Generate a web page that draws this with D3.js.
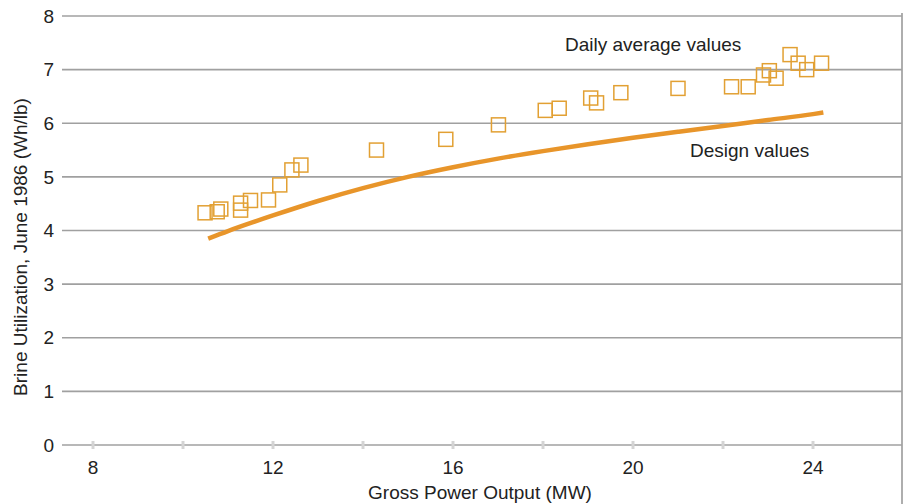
<!DOCTYPE html>
<html>
<head>
<meta charset="utf-8">
<script src="https://cdn.jsdelivr.net/npm/d3@7"></script>
<style>
  body { margin: 0; background: #fff; }
  text { font-family: "Liberation Sans", Arial, sans-serif; fill: #222; }
</style>
</head>
<body>
<script>
let width = 908
let height = 504

// daily average values (MW, Wh/lb)
let dailyX = [10.49, 10.76, 10.84, 11.28, 11.28, 11.5, 11.9, 12.15, 12.42, 12.62,
  14.3, 15.84, 17.01, 18.05, 18.36, 19.06, 19.19, 19.73, 21.0,
  22.19, 22.56, 22.9, 23.03, 23.18, 23.49, 23.67, 23.86, 24.19]
let dailyY = [4.33, 4.35, 4.4, 4.51, 4.38, 4.56, 4.57, 4.85, 5.13, 5.22,
  5.5, 5.7, 5.97, 6.24, 6.28, 6.47, 6.38, 6.57, 6.65,
  6.68, 6.68, 6.9, 6.98, 6.84, 7.28, 7.12, 7.0, 7.12]

// design curve
let designX = [10.56, 11, 12, 13, 14, 15, 16, 17, 18, 19, 20, 21, 22, 23, 24, 24.23]
let designY = [3.85, 3.99, 4.28, 4.55, 4.79, 5.0, 5.18, 5.34, 5.48, 5.61, 5.73, 5.84, 5.95, 6.06, 6.17, 6.2]

let xTicks = [8, 12, 16, 20, 24]
let xMinor = [8, 10, 12, 14, 16, 18, 20, 22, 24]
let yTicks = [0, 1, 2, 3, 4, 5, 6, 7, 8]

let plotLeft = 62, plotRight = 902, plotTop = 16, plotBottom = 445

let x = d3.scaleLinear().domain([8, 24]).range([93, 813])
let y = d3.scaleLinear().domain([0, 8]).range([plotBottom, plotTop])

let svg = d3.select('body').append('svg')
  .attr('width', width)
  .attr('height', height)

// grid lines
svg.append('g').selectAll('line')
  .data(yTicks)
  .join('line')
  .attr('x1', plotLeft)
  .attr('x2', plotRight)
  .attr('y1', d => y(d))
  .attr('y2', d => y(d))
  .style('stroke', '#a0a0a0')
  .style('stroke-width', 1.7)

// right border
svg.append('line')
  .attr('x1', plotRight)
  .attr('x2', plotRight)
  .attr('y1', plotTop - 3)
  .attr('y2', height)
  .style('stroke', '#a0a0a0')
  .style('stroke-width', 1.7)

// little tick marks on the zero line
svg.append('g').selectAll('line')
  .data(xMinor)
  .join('line')
  .attr('x1', d => x(d))
  .attr('x2', d => x(d))
  .attr('y1', plotBottom - 4)
  .attr('y2', plotBottom + 4)
  .style('stroke', '#d4d4d4')
  .style('stroke-width', 3)

// y tick labels
svg.append('g').selectAll('text')
  .data(yTicks)
  .join('text')
  .attr('x', 54)
  .attr('y', d => y(d))
  .attr('dy', '0.35em')
  .attr('text-anchor', 'end')
  .style('font-size', '19px')
  .text(d => d)

// x tick labels
svg.append('g').selectAll('text')
  .data(xTicks)
  .join('text')
  .attr('x', d => x(d))
  .attr('y', 474)
  .attr('text-anchor', 'middle')
  .style('font-size', '19px')
  .text(d => d)

svg.append('text')
  .attr('x', 480)
  .attr('y', 499)
  .attr('text-anchor', 'middle')
  .style('font-size', '19px')
  .text('Gross Power Output (MW)')

svg.append('text')
  .attr('transform', 'translate(27,247) rotate(-90)')
  .attr('text-anchor', 'middle')
  .style('font-size', '19px')
  .text('Brine Utilization, June 1986 (Wh/lb)')

// design line
let design = designX.map((d, i) => [d, designY[i]])
let line = d3.line()
  .x(d => x(d[0]))
  .y(d => y(d[1]))
  .curve(d3.curveMonotoneX)

svg.append('path')
  .datum(design)
  .attr('d', line)
  .style('fill', 'none')
  .style('stroke', '#e8952a')
  .style('stroke-width', 4.5)

// daily squares
let s = 14
svg.append('g').selectAll('rect')
  .data(dailyX.map((d, i) => [d, dailyY[i]]))
  .join('rect')
  .attr('x', d => x(d[0]) - s / 2)
  .attr('y', d => y(d[1]) - s / 2)
  .attr('width', s)
  .attr('height', s)
  .style('fill', 'none')
  .style('stroke', '#e2a033')
  .style('stroke-width', 1.5)

svg.append('text')
  .attr('x', 565)
  .attr('y', 51)
  .style('font-size', '19px')
  .text('Daily average values')

svg.append('text')
  .attr('x', 690)
  .attr('y', 157)
  .style('font-size', '19px')
  .text('Design values')
</script>
</body>
</html>
